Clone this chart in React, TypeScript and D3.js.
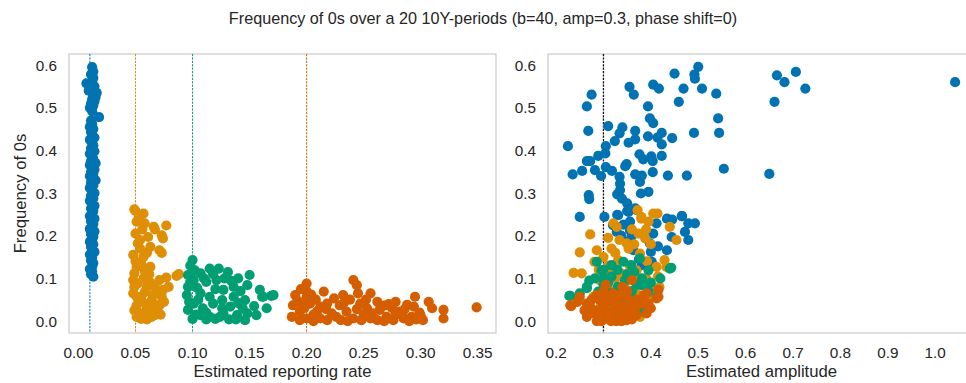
import React from 'react';
import * as d3 from 'd3';

// seaborn "colorblind" palette
const seriesColors = ['#0173b2', '#de8f05', '#029e73', '#d55e00'];
const trueRates = [0.01, 0.05, 0.1, 0.2];
const trueAmp = 0.3;

const rateTicks = [0, 0.05, 0.1, 0.15, 0.2, 0.25, 0.3, 0.35];
const ampTicks = [0.2, 0.3, 0.4, 0.5, 0.6, 0.7, 0.8, 0.9, 1.0];
const freqTicks = [0, 0.1, 0.2, 0.3, 0.4, 0.5, 0.6];

// [estimated reporting rate, frequency of 0s]
const rateBlue = [
  [0.012, 0.595], [0.013, 0.585], [0.011, 0.578], [0.013, 0.57], [0.012, 0.562], [0.007, 0.557],
  [0.010, 0.555], [0.014, 0.55], [0.012, 0.545], [0.009, 0.54], [0.016, 0.535], [0.013, 0.53],
  [0.015, 0.525], [0.012, 0.52], [0.014, 0.515], [0.011, 0.51], [0.013, 0.505], [0.010, 0.5],
  [0.012, 0.492], [0.018, 0.478], [0.011, 0.47], [0.012, 0.462], [0.010, 0.455], [0.013, 0.45],
  [0.011, 0.443], [0.012, 0.436], [0.014, 0.43], [0.010, 0.425], [0.012, 0.418], [0.013, 0.412],
  [0.011, 0.405], [0.014, 0.398], [0.010, 0.392], [0.012, 0.386], [0.013, 0.38], [0.011, 0.375],
  [0.015, 0.37], [0.010, 0.366], [0.012, 0.36], [0.014, 0.355], [0.011, 0.35], [0.013, 0.345],
  [0.010, 0.34], [0.012, 0.334], [0.015, 0.33], [0.011, 0.325], [0.013, 0.318], [0.010, 0.312],
  [0.012, 0.306], [0.014, 0.3], [0.011, 0.294], [0.013, 0.288], [0.010, 0.282], [0.012, 0.276],
  [0.014, 0.27], [0.011, 0.264], [0.013, 0.258], [0.012, 0.252], [0.010, 0.246], [0.014, 0.24],
  [0.011, 0.234], [0.013, 0.228], [0.012, 0.222], [0.010, 0.216], [0.014, 0.21], [0.011, 0.204],
  [0.013, 0.198], [0.012, 0.192], [0.010, 0.186], [0.013, 0.18], [0.011, 0.174], [0.012, 0.168],
  [0.014, 0.162], [0.010, 0.156], [0.012, 0.15], [0.011, 0.142], [0.013, 0.136], [0.012, 0.128],
  [0.010, 0.122], [0.012, 0.116], [0.011, 0.11], [0.013, 0.104],
];
const rateOrange = [
  [0.049, 0.262], [0.05, 0.258], [0.057, 0.252], [0.051, 0.233], [0.058, 0.229], [0.066, 0.221],
  [0.077, 0.224], [0.073, 0.201], [0.061, 0.197], [0.05, 0.205], [0.067, 0.215], [0.074, 0.194],
  [0.052, 0.182], [0.063, 0.174], [0.071, 0.166], [0.073, 0.16], [0.048, 0.155], [0.057, 0.151],
  [0.051, 0.127], [0.063, 0.127], [0.088, 0.11], [0.086, 0.106], [0.077, 0.102], [0.071, 0.096],
  [0.057, 0.1], [0.048, 0.096], [0.067, 0.08], [0.079, 0.08], [0.06, 0.08], [0.074, 0.073],
  [0.048, 0.065], [0.055, 0.057], [0.051, 0.057], [0.073, 0.057], [0.066, 0.041], [0.051, 0.037],
  [0.06, 0.034], [0.071, 0.037], [0.051, 0.01], [0.06, 0.004], [0.067, 0.014], [0.055, 0.018],
  [0.069, 0.026], [0.064, 0.01], [0.058, 0.02], [0.049, 0.112], [0.05, 0.14], [0.054, 0.17],
  [0.062, 0.11], [0.049, 0.08], [0.065, 0.06], [0.075, 0.045], [0.072, 0.015], [0.062, 0.025],
  [0.049, 0.025], [0.053, 0.245], [0.056, 0.215], [0.054, 0.19], [0.06, 0.16], [0.055, 0.135],
  [0.058, 0.118], [0.052, 0.088], [0.063, 0.09], [0.07, 0.07], [0.058, 0.068], [0.056, 0.045],
  [0.064, 0.048], [0.055, 0.005], [0.06, 0.015],
];
const rateGreen = [
  [0.1, 0.143], [0.102, 0.119], [0.096, 0.108], [0.107, 0.112], [0.115, 0.123], [0.123, 0.123],
  [0.131, 0.115], [0.121, 0.096], [0.14, 0.1], [0.15, 0.108], [0.148, 0.084], [0.159, 0.073],
  [0.169, 0.059], [0.161, 0.057], [0.156, 0.014], [0.096, 0.08], [0.095, 0.061], [0.107, 0.065],
  [0.115, 0.057], [0.127, 0.073], [0.136, 0.057], [0.146, 0.049], [0.096, 0.026], [0.107, 0.014],
  [0.115, 0.01], [0.127, 0.018], [0.139, 0.014], [0.148, 0.018], [0.118, 0.041], [0.101, 0.041],
  [0.133, 0.034], [0.126, 0.049], [0.112, 0.092], [0.101, 0.096], [0.136, 0.08], [0.171, 0.061],
  [0.162, 0.057], [0.098, 0.13], [0.11, 0.1], [0.128, 0.1], [0.142, 0.07], [0.12, 0.005],
  [0.132, 0.004], [0.1, 0.005], [0.144, 0.03], [0.109, 0.03], [0.154, 0.035], [0.165, 0.03],
  [0.12, 0.075], [0.105, 0.05], [0.097, 0.045], [0.103, 0.015], [0.112, 0.02], [0.124, 0.01],
  [0.138, 0.004], [0.112, 0.004], [0.098, 0.092], [0.104, 0.078], [0.118, 0.11], [0.134, 0.094],
  [0.146, 0.002], [0.126, 0.03], [0.14, 0.042],
];
const rateVerm = [
  [0.2, 0.088], [0.241, 0.096], [0.244, 0.084], [0.19, 0.061], [0.215, 0.069], [0.232, 0.061],
  [0.245, 0.065], [0.256, 0.065], [0.295, 0.057], [0.307, 0.045], [0.278, 0.045], [0.349, 0.032],
  [0.32, 0.026], [0.32, 0.006], [0.302, 0.002], [0.188, 0.037], [0.203, 0.041], [0.218, 0.041],
  [0.229, 0.037], [0.247, 0.041], [0.253, 0.03], [0.264, 0.026], [0.281, 0.022], [0.294, 0.034],
  [0.187, 0.01], [0.2, 0.006], [0.212, 0.006], [0.226, 0.01], [0.241, 0.006], [0.256, 0.006],
  [0.27, 0.01], [0.285, 0.006], [0.292, 0.01], [0.194, 0.022], [0.209, 0.022], [0.235, 0.022],
  [0.2, 0.057], [0.224, 0.053], [0.2, 0.07], [0.208, 0.05], [0.262, 0.045], [0.272, 0.04],
  [0.238, 0.05], [0.198, 0.03], [0.25, 0.015], [0.275, 0.03], [0.288, 0.038], [0.217, 0.028],
  [0.192, 0.048], [0.206, 0.015], [0.23, 0.002], [0.262, 0.002], [0.278, 0.015], [0.299, 0.02],
  [0.194, 0.002], [0.206, 0.0], [0.218, 0.002], [0.236, 0.0], [0.248, 0.002], [0.268, 0.0],
  [0.276, 0.002], [0.29, 0.0], [0.296, 0.004], [0.222, 0.018], [0.244, 0.028], [0.258, 0.018],
  [0.268, 0.036], [0.284, 0.014], [0.196, 0.04], [0.212, 0.034], [0.233, 0.044], [0.252, 0.05],
  [0.286, 0.028], [0.3, 0.012], [0.31, 0.03], [0.195, 0.075], [0.204, 0.062],
];

// [estimated amplitude, frequency of 0s]
const ampBlue = [
  [0.5, 0.596], [0.45, 0.58], [0.492, 0.578], [0.493, 0.568], [0.666, 0.576], [0.706, 0.584],
  [0.682, 0.56], [0.726, 0.545], [0.661, 0.514], [1.042, 0.56], [0.355, 0.549], [0.364, 0.531],
  [0.275, 0.531], [0.265, 0.503], [0.405, 0.554], [0.417, 0.545], [0.469, 0.545], [0.508, 0.545],
  [0.538, 0.533], [0.459, 0.514], [0.394, 0.503], [0.398, 0.475], [0.405, 0.464], [0.542, 0.475],
  [0.544, 0.441], [0.491, 0.441], [0.268, 0.446], [0.31, 0.457], [0.34, 0.454], [0.334, 0.44],
  [0.367, 0.446], [0.367, 0.426], [0.324, 0.422], [0.353, 0.418], [0.394, 0.433], [0.423, 0.441],
  [0.414, 0.43], [0.423, 0.414], [0.445, 0.429], [0.225, 0.41], [0.305, 0.41], [0.289, 0.387],
  [0.265, 0.375], [0.272, 0.375], [0.304, 0.393], [0.376, 0.391], [0.384, 0.379], [0.401, 0.386],
  [0.404, 0.375], [0.423, 0.387], [0.349, 0.368], [0.346, 0.363], [0.235, 0.344], [0.255, 0.352],
  [0.282, 0.354], [0.295, 0.34], [0.305, 0.361], [0.318, 0.352], [0.334, 0.338], [0.367, 0.344],
  [0.381, 0.341], [0.404, 0.349], [0.377, 0.326], [0.436, 0.341], [0.476, 0.341], [0.554, 0.357],
  [0.65, 0.345], [0.335, 0.322], [0.335, 0.307], [0.329, 0.297], [0.379, 0.299], [0.395, 0.303],
  [0.269, 0.295], [0.27, 0.286], [0.339, 0.287], [0.35, 0.276], [0.35, 0.258], [0.367, 0.264],
  [0.25, 0.244], [0.302, 0.244], [0.329, 0.249], [0.466, 0.246], [0.445, 0.238], [0.331, 0.248],
  [0.353, 0.256], [0.37, 0.26], [0.356, 0.233], [0.412, 0.229], [0.434, 0.24], [0.465, 0.246],
  [0.479, 0.229], [0.493, 0.229], [0.472, 0.209], [0.32, 0.225], [0.328, 0.209], [0.356, 0.213],
  [0.405, 0.205], [0.444, 0.197], [0.479, 0.19], [0.398, 0.182], [0.349, 0.186], [0.4, 0.162],
  [0.434, 0.166], [0.363, 0.166], [0.402, 0.139], [0.381, 0.131], [0.338, 0.2], [0.36, 0.2],
  [0.342, 0.226], [0.415, 0.175], [0.375, 0.145],
];
const ampOrange = [
  [0.372, 0.26], [0.405, 0.252], [0.414, 0.252], [0.38, 0.244], [0.38, 0.24], [0.321, 0.229],
  [0.395, 0.233], [0.44, 0.221], [0.272, 0.203], [0.374, 0.205], [0.388, 0.194], [0.454, 0.19],
  [0.334, 0.19], [0.25, 0.161], [0.286, 0.166], [0.317, 0.17], [0.353, 0.17], [0.377, 0.158],
  [0.429, 0.143], [0.281, 0.139], [0.331, 0.143], [0.237, 0.113], [0.254, 0.112], [0.314, 0.115],
  [0.37, 0.119], [0.412, 0.127], [0.433, 0.127], [0.345, 0.088], [0.402, 0.077], [0.279, 0.057],
  [0.335, 0.073], [0.36, 0.034], [0.363, 0.014], [0.314, 0.018], [0.377, 0.01], [0.418, 0.08],
  [0.395, 0.053], [0.349, 0.049], [0.292, 0.096], [0.328, 0.221], [0.349, 0.182], [0.3, 0.15],
  [0.34, 0.11], [0.365, 0.095], [0.31, 0.075], [0.385, 0.03], [0.36, 0.215], [0.39, 0.215],
  [0.4, 0.18], [0.365, 0.18], [0.31, 0.195], [0.325, 0.16], [0.392, 0.14], [0.415, 0.105],
  [0.355, 0.13], [0.31, 0.13], [0.29, 0.12], [0.325, 0.1], [0.39, 0.1], [0.37, 0.065],
  [0.325, 0.04], [0.345, 0.005], [0.295, 0.035],
];
const ampGreen = [
  [0.377, 0.147], [0.286, 0.139], [0.44, 0.123], [0.443, 0.125], [0.296, 0.119], [0.317, 0.131],
  [0.342, 0.139], [0.359, 0.131], [0.395, 0.119], [0.282, 0.1], [0.317, 0.104], [0.381, 0.1],
  [0.265, 0.08], [0.23, 0.059], [0.289, 0.061], [0.349, 0.061], [0.381, 0.084], [0.412, 0.057],
  [0.374, 0.037], [0.334, 0.03], [0.384, 0.022], [0.292, 0.014], [0.331, 0.002], [0.228, 0.059],
  [0.377, 0.034], [0.265, 0.077], [0.289, 0.069], [0.31, 0.09], [0.33, 0.08], [0.36, 0.07],
  [0.305, 0.045], [0.35, 0.11], [0.4, 0.09], [0.32, 0.06], [0.27, 0.095], [0.355, 0.015],
  [0.3, 0.12], [0.34, 0.05], [0.33, 0.12], [0.365, 0.115], [0.345, 0.095], [0.3, 0.1],
  [0.37, 0.085], [0.395, 0.07], [0.31, 0.068], [0.25, 0.065], [0.3, 0.085], [0.36, 0.05],
  [0.32, 0.02], [0.39, 0.04], [0.42, 0.1],
];
const ampVerm = [
  [0.36, 0.096], [0.416, 0.073], [0.391, 0.065], [0.23, 0.037], [0.25, 0.057], [0.265, 0.041],
  [0.292, 0.049], [0.349, 0.057], [0.384, 0.041], [0.412, 0.053], [0.279, 0.018], [0.307, 0.006],
  [0.327, 0.0], [0.349, 0.002], [0.37, 0.014], [0.3, 0.034], [0.321, 0.041], [0.324, 0.022],
  [0.345, 0.026], [0.265, 0.01], [0.286, 0.0], [0.391, 0.018], [0.416, 0.057], [0.395, 0.041],
  [0.232, 0.035], [0.3, 0.07], [0.32, 0.065], [0.34, 0.08], [0.31, 0.02], [0.335, 0.012],
  [0.36, 0.03], [0.355, 0.045], [0.29, 0.025], [0.315, 0.055], [0.275, 0.03], [0.3, 0.005],
  [0.34, 0.035], [0.37, 0.05], [0.305, 0.085], [0.285, 0.06], [0.296, 0.0], [0.316, 0.0],
  [0.338, 0.0], [0.36, 0.004], [0.31, 0.012], [0.32, 0.03], [0.33, 0.045], [0.345, 0.015],
  [0.36, 0.018], [0.29, 0.012], [0.305, 0.05], [0.275, 0.05], [0.33, 0.06], [0.35, 0.07],
  [0.385, 0.06], [0.4, 0.03], [0.37, 0.035], [0.26, 0.025], [0.245, 0.045],
];

const rateSeries = [rateBlue, rateOrange, rateGreen, rateVerm];
const ampSeries = [ampBlue, ampOrange, ampGreen, ampVerm];

const W = 966;
const H = 383;
const top = 54;
const bottom = 333;
const textColor = '#262626';
const font = 'Arial, "Liberation Sans", sans-serif';

const y = d3.scaleLinear().domain([-0.028, 0.626]).range([bottom, top]);
const xRate = d3.scaleLinear().domain([-0.0083, 0.366]).range([69, 496]);
const xAmp = d3.scaleLinear().domain([0.183, 1.084]).range([548, 975]);

const Panel = ({ x, ticks, fmt, series, label, vlines, showYLabel }) => {
  const [x0, x1] = x.range();
  return (
    <g>
      <rect x={x0} y={top} width={x1 - x0} height={bottom - top} fill="white" stroke="#cccccc" strokeWidth={1.25} />
      {vlines.map((v, i) => (
        <line key={i} x1={x(v.value)} x2={x(v.value)} y1={top} y2={bottom}
          stroke={v.color} strokeWidth={v.width} strokeDasharray="2.2,1.2" />
      ))}
      {series.map((pts, si) => (
        <g key={si} fill={seriesColors[si]}>
          {pts.map((d, i) => (
            <circle key={i} cx={x(d[0])} cy={y(d[1])} r={5.1} />
          ))}
        </g>
      ))}
      {ticks.map((t) => (
        <text key={t} x={x(t)} y={358} textAnchor="middle" fontSize={15.3} fill={textColor}>
          {fmt(t)}
        </text>
      ))}
      {freqTicks.map((t) => (
        <text key={t} x={x0 - 12} y={y(t) + 5.5} textAnchor="end" fontSize={15.3} fill={textColor}>
          {d3.format('.1f')(t)}
        </text>
      ))}
      <text x={(x0 + x1) / 2} y={377} textAnchor="middle" fontSize={16.7} fill={textColor}>
        {label}
      </text>
      {showYLabel && (
        <text transform={`translate(26,${(top + bottom) / 2}) rotate(-90)`} textAnchor="middle"
          fontSize={16.7} fill={textColor}>
          Frequency of 0s
        </text>
      )}
    </g>
  );
};

export default function App() {
  return (
    <svg width={W} height={H} style={{ position: 'absolute', left: 0, top: 0 }} fontFamily={font}>
      <rect width={W} height={H} fill="white" />
      <text x={483} y={24} textAnchor="middle" fontSize={16.2} fill={textColor}>
        Frequency of 0s over a 20 10Y-periods (b=40, amp=0.3, phase shift=0)
      </text>
      <Panel
        x={xRate}
        ticks={rateTicks}
        fmt={d3.format('.2f')}
        series={rateSeries}
        label="Estimated reporting rate"
        vlines={trueRates.map((r, i) => ({ value: r, color: seriesColors[i], width: 1 }))}
        showYLabel
      />
      <Panel
        x={xAmp}
        ticks={ampTicks}
        fmt={d3.format('.1f')}
        series={ampSeries}
        label="Estimated amplitude"
        vlines={[{ value: trueAmp, color: '#111111', width: 1.3 }]}
        showYLabel={false}
      />
    </svg>
  );
}
